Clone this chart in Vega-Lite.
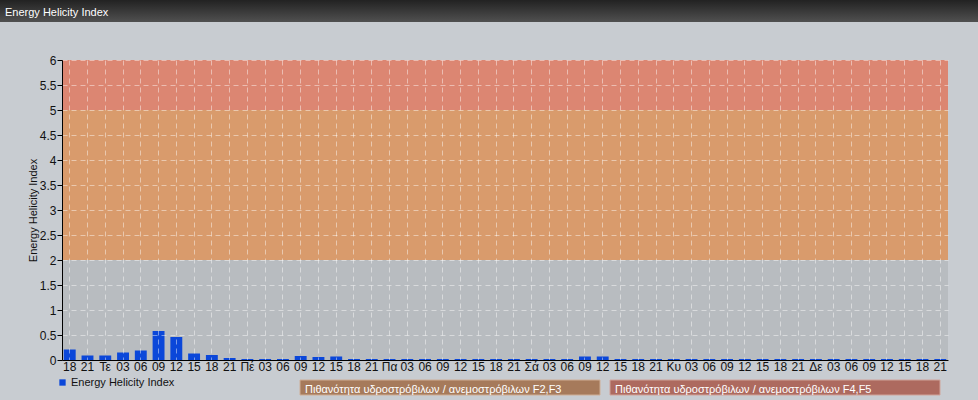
{
  "$schema": "https://vega.github.io/schema/vega-lite/v6.json",
  "background": "#c8ccd1",
  "padding": {"left": 0, "top": 0, "right": 0, "bottom": 5},
  "spacing": 2,
  "resolve": {"scale": {"color": "independent"}, "legend": {"color": "independent"}},
  "config": {
    "font": "Liberation Sans",
    "view": {"stroke": null},
    "title": {"fontWeight": "normal"}
  },
  "vconcat": [
    {
      "width": 978,
      "height": 22,
      "data": {"values": [{"panel": "header"}]},
      "mark": {
        "type": "rect",
        "strokeWidth": 0,
        "fill": {
          "gradient": "linear", "x1": 0, "y1": 0, "x2": 0, "y2": 1,
          "stops": [{"offset": 0, "color": "#222222"}, {"offset": 1, "color": "#505050"}]
        }
      },
      "title": {
        "text": "Energy Helicity Index",
        "anchor": "start", "frame": "group", "offset": -27, "baseline": "alphabetic",
        "dx": 5, "color": "#ffffff", "fontSize": 11, "fontWeight": "normal"
      }
    },
    {
      "spacing": 0,
      "hconcat": [
        {
          "width": 1,
          "height": 1,
          "data": {"values": []},
          "mark": "point"
        },
        {
          "width": 886,
          "height": 300,
          "title": {"text": "\u00a0", "fontSize": 1, "offset": 29, "anchor": "start"},
          "view": {"fill": "#b8bcc0", "stroke": null},
          "encoding": {
            "y": {
              "field": "value", "type": "quantitative",
              "scale": {"domain": [0, 6], "nice": false},
              "axis": {
                "title": "Energy Helicity Index",
                "titleFontSize": 11, "titleFontWeight": "normal", "titleColor": "#111111", "titlePadding": 1,
                "values": [0, 0.5, 1, 1.5, 2, 2.5, 3, 3.5, 4, 4.5, 5, 5.5, 6],
                "format": "~g", "labelOverlap": false,
                "labelFontSize": 12, "labelColor": "#111111", "labelPadding": 1,
                "tickSize": 5, "tickColor": "#000000", "domainColor": "#000000",
                "grid": true, "gridColor": "#ffffff", "gridOpacity": 0.45, "gridDash": [5, 4],
                "zindex": 1
              }
            }
          },
          "layer": [
            {
              "data": {"values": [{"value": 2, "end": 5, "band": "F2,F3"}]},
              "mark": {"type": "rect", "color": "#d99b6c"},
              "encoding": {"y2": {"field": "end"}}
            },
            {
              "data": {"values": [{"value": 5, "end": 6, "band": "F4,F5"}]},
              "mark": {"type": "rect", "color": "#dc8672"},
              "encoding": {"y2": {"field": "end"}}
            },
            {
              "data": {"values": [
                {"time": "Τρ 18", "value": 0.21}, {"time": "Τρ 21", "value": 0.09},
                {"time": "Τε 00", "value": 0.09}, {"time": "Τε 03", "value": 0.15}, {"time": "Τε 06", "value": 0.19}, {"time": "Τε 09", "value": 0.58},
                {"time": "Τε 12", "value": 0.46}, {"time": "Τε 15", "value": 0.13}, {"time": "Τε 18", "value": 0.10}, {"time": "Τε 21", "value": 0.04},
                {"time": "Πέ 00", "value": 0.02}, {"time": "Πέ 03", "value": 0.02}, {"time": "Πέ 06", "value": 0.02}, {"time": "Πέ 09", "value": 0.08},
                {"time": "Πέ 12", "value": 0.06}, {"time": "Πέ 15", "value": 0.07}, {"time": "Πέ 18", "value": 0.02}, {"time": "Πέ 21", "value": 0.02},
                {"time": "Πα 00", "value": 0.02}, {"time": "Πα 03", "value": 0.02}, {"time": "Πα 06", "value": 0.02}, {"time": "Πα 09", "value": 0.02},
                {"time": "Πα 12", "value": 0.02}, {"time": "Πα 15", "value": 0.02}, {"time": "Πα 18", "value": 0.02}, {"time": "Πα 21", "value": 0.02},
                {"time": "Σά 00", "value": 0.02}, {"time": "Σά 03", "value": 0.02}, {"time": "Σά 06", "value": 0.02}, {"time": "Σά 09", "value": 0.07},
                {"time": "Σά 12", "value": 0.07}, {"time": "Σά 15", "value": 0.02}, {"time": "Σά 18", "value": 0.02}, {"time": "Σά 21", "value": 0.02},
                {"time": "Κυ 00", "value": 0.02}, {"time": "Κυ 03", "value": 0.02}, {"time": "Κυ 06", "value": 0.02}, {"time": "Κυ 09", "value": 0.02},
                {"time": "Κυ 12", "value": 0.02}, {"time": "Κυ 15", "value": 0.02}, {"time": "Κυ 18", "value": 0.02}, {"time": "Κυ 21", "value": 0.02},
                {"time": "Δε 00", "value": 0.02}, {"time": "Δε 03", "value": 0.02}, {"time": "Δε 06", "value": 0.02}, {"time": "Δε 09", "value": 0.02},
                {"time": "Δε 12", "value": 0.02}, {"time": "Δε 15", "value": 0.02}, {"time": "Δε 18", "value": 0.02}, {"time": "Δε 21", "value": 0.02}
              ]},
              "mark": {"type": "bar", "color": "#0b47d9"},
              "encoding": {
                "x": {
                  "field": "time", "type": "ordinal", "sort": null,
                  "scale": {"paddingInner": 0.33, "paddingOuter": 0.1},
                  "axis": {
                    "title": "\u00a0", "titleFontSize": 1, "titleX": -61, "titleY": 14,
                    "titleAlign": "left", "titleBaseline": "top",
                    "labelExpr": "split(datum.value, ' ')[1] == '00' ? split(datum.value, ' ')[0] : split(datum.value, ' ')[1]",
                    "labelAngle": 0, "labelFontSize": 12, "labelColor": "#111111", "labelPadding": 1,
                    "labelOverlap": false,
                    "ticks": false, "domainColor": "#000000",
                    "grid": true, "gridColor": "#ffffff", "gridOpacity": 0.45, "gridDash": [5, 4],
                    "zindex": 1
                  }
                }
              }
            }
          ]
        }
      ]
    },
    {
      "bounds": "flush",
      "spacing": 10,
      "resolve": {"scale": {"color": "independent"}, "legend": {"color": "independent"}},
      "hconcat": [
        {
          "width": 290,
          "height": 15,
          "data": {"values": [{"series": "Energy Helicity Index"}]},
          "mark": {"type": "square", "size": 0},
          "encoding": {
            "color": {
              "field": "series", "type": "nominal",
              "scale": {"range": ["#0b47d9"]},
              "legend": {
                "orient": "none", "legendX": 57, "legendY": -3, "title": null,
                "symbolType": "square", "symbolSize": 40, "symbolOpacity": 1, "symbolStrokeWidth": 0,
                "labelFontSize": 11, "labelColor": "#111111", "labelOffset": 3, "padding": 0
              }
            }
          }
        },
        {
          "width": 300,
          "height": 15,
          "data": {"values": [{"band": "F2,F3"}]},
          "mark": {"type": "rect", "fill": "#a67a5b", "stroke": "#cfae96", "strokeWidth": 1},
          "title": {
            "text": "Πιθανότητα υδροστρόβιλων / ανεμοστρόβιλων F2,F3",
            "anchor": "start", "frame": "group", "offset": -24, "baseline": "alphabetic",
            "dx": 5, "color": "#ffffff", "fontSize": 11, "fontWeight": "normal"
          }
        },
        {
          "width": 330,
          "height": 15,
          "data": {"values": [{"band": "F4,F5"}]},
          "mark": {"type": "rect", "fill": "#ad6a5f", "stroke": "#d0a39a", "strokeWidth": 1},
          "title": {
            "text": "Πιθανότητα υδροστρόβιλων / ανεμοστρόβιλων F4,F5",
            "anchor": "start", "frame": "group", "offset": -24, "baseline": "alphabetic",
            "dx": 5, "color": "#ffffff", "fontSize": 11, "fontWeight": "normal"
          }
        }
      ]
    }
  ]
}
